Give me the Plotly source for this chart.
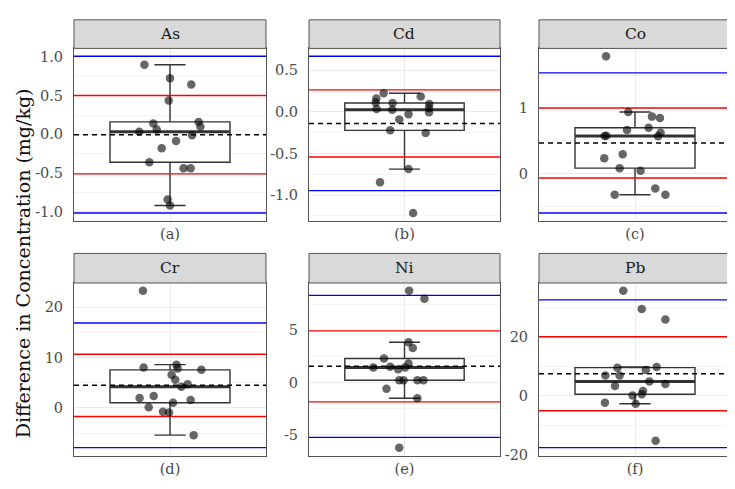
import numpy as np
import plotly.graph_objects as go

# ---------------- data ----------------
elements = ["As", "Cd", "Co", "Cr", "Ni", "Pb"]
panel_tags = ["(a)", "(b)", "(c)", "(d)", "(e)", "(f)"]

as_diff = [0.899, 0.725, 0.645, 0.437, 0.14, 0.034, 0.064, 0.161, 0.098, -0.013,
           -0.085, -0.178, -0.36, -0.437, -0.437, -0.84, -0.92]
as_jitter = [-0.160, 0.0, 0.133, -0.008, -0.104, -0.192, -0.083, 0.179, 0.190, 0.138,
             0.038, -0.052, -0.129, 0.085, 0.129, -0.015, 0.0]

cd_diff = [0.225, 0.186, 0.162, 0.114, 0.107, 0.095, 0.047, -0.004, 0.036, 0.028,
           -0.028, -0.091, -0.221, -0.253, -0.687, -0.845, -1.216]
cd_jitter = [-0.131, 0.102, -0.177, -0.181, -0.075, 0.156, 0.154, 0.154, -0.175, -0.077,
             0.025, -0.033, -0.090, 0.133, 0.025, -0.154, 0.054]

co_diff = [1.79, 0.94, 0.87, 0.85, 0.70, 0.665, 0.625, 0.57, 0.575, 0.58,
           0.295, 0.235, 0.085, 0.045, -0.225, -0.32, -0.32]
co_jitter = [-0.181, -0.042, 0.106, 0.156, 0.085, -0.050, 0.160, 0.144, -0.190, -0.179,
             -0.077, -0.192, -0.096, 0.035, 0.127, 0.190, -0.127]

cr_diff = [23.26, 8.6, 8.01, 7.82, 7.56, 6.58, 5.6, 4.69, 4.23, 2.35,
           1.95, 1.56, 1.04, 0.13, -0.78, -0.91, -5.41]
cr_jitter = [-0.169, 0.040, -0.165, 0.048, 0.196, 0.010, 0.033, 0.110, 0.071, -0.102,
             -0.190, 0.129, 0.019, -0.133, -0.044, -0.006, 0.148]

ni_diff = [8.8, 8.05, 3.87, 3.3, 2.3, 1.82, 1.45, 1.51, 1.45, 1.26,
           0.22, 0.22, 0.22, 0.22, -0.6, -1.51, -6.26]
ni_jitter = [0.029, 0.125, 0.025, 0.052, -0.129, 0.025, -0.196, -0.090, 0.004, -0.040,
             -0.033, -0.006, 0.081, 0.119, -0.113, 0.081, -0.033]

pb_diff = [35.75, 29.6, 26.0, 9.83, 9.6, 8.83, 6.93, 6.93, 4.92, 4.02,
           3.35, 1.68, 0.56, 0.11, -2.68, -2.35, -15.3]
pb_jitter = [-0.073, 0.042, 0.190, 0.135, -0.110, 0.067, -0.185, -0.096, 0.090, 0.190,
             -0.125, 0.050, 0.042, -0.015, 0.004, -0.188, 0.129]

as_ticks = [-1.0, -0.5, 0.0, 0.5, 1.0]
as_tick_text = ["-1.0", "-0.5", "0.0", "0.5", "1.0"]
cd_ticks = [-1.0, -0.5, 0.0, 0.5]
cd_tick_text = ["-1.0", "-0.5", "0.0", "0.5"]
co_ticks = [0, 1]
co_tick_text = ["0", "1"]
cr_ticks = [0, 10, 20]
cr_tick_text = ["0", "10", "20"]
ni_ticks = [-5, 0, 5]
ni_tick_text = ["-5", "0", "5"]
pb_ticks = [-20, 0, 20]
pb_tick_text = ["-20", "0", "20"]

all_diff = [as_diff, cd_diff, co_diff, cr_diff, ni_diff, pb_diff]
all_jitter = [as_jitter, cd_jitter, co_jitter, cr_jitter, ni_jitter, pb_jitter]
all_ticks = [as_ticks, cd_ticks, co_ticks, cr_ticks, ni_ticks, pb_ticks]
all_tick_text = [as_tick_text, cd_tick_text, co_tick_text, cr_tick_text, ni_tick_text, pb_tick_text]

# ---------------- layout geometry ----------------
W, H = 735, 489
col_px = [(66, 258), (301, 492), (531, 723)]
row_px = [(41, 216), (279, 454)]
strip_px = [(12, 41), (249, 279)]

FONT = "DejaVu Serif"
TICKCOL = "#4a4a4a"
GRID = "#ebebeb"
MINOR = "#f4f4f4"
BORDER = "#555555"

fig = go.Figure()
layout = dict(
    width=W, height=H, margin=dict(l=0, r=0, t=0, b=0),
    paper_bgcolor="white", plot_bgcolor="white",
    showlegend=False, hovermode=False,
    font=dict(family=FONT, color=TICKCOL, size=14),
)
shapes = []
annotations = []

for i in range(6):
    r, c = divmod(i, 3)
    sfx = "" if i == 0 else str(i + 1)
    xa, ya = "x" + sfx, "y" + sfx
    vals = np.array(all_diff[i], dtype=float)
    jit = np.array(all_jitter[i], dtype=float)

    mean = vals.mean()
    sd = vals.std(ddof=1)
    q1, med, q3 = np.percentile(vals, [25, 50, 75])
    iqr = q3 - q1
    upper = vals[vals <= q3 + 1.5 * iqr].max()
    lower = vals[vals >= q1 - 1.5 * iqr].min()

    # box
    fig.add_trace(go.Box(
        x=[1], q1=[q1], median=[med], q3=[q3], lowerfence=[lower], upperfence=[upper],
        width=0.75, whiskerwidth=0.26, boxpoints=False, fillcolor="white",
        line=dict(color="#333333", width=1.4), xaxis=xa, yaxis=ya,
    ))
    # thick median
    fig.add_trace(go.Scatter(
        x=[1 - 0.375, 1 + 0.375], y=[med, med], mode="lines",
        line=dict(color="#333333", width=3), xaxis=xa, yaxis=ya,
    ))
    # reference lines
    for v, col, dash, wd in [
        (mean + 2 * sd, "#0000ff", "solid", 1.4), (mean - 2 * sd, "#0000ff", "solid", 1.4),
        (mean + sd, "#ff0000", "solid", 1.4), (mean - sd, "#ff0000", "solid", 1.4),
        (mean, "#000000", "5px,4px", 1.5),
    ]:
        fig.add_trace(go.Scatter(
            x=[0.4, 1.6], y=[v, v], mode="lines",
            line=dict(color=col, width=wd, dash=dash), xaxis=xa, yaxis=ya,
        ))
    # jittered points
    fig.add_trace(go.Scatter(
        x=1 + jit, y=vals, mode="markers",
        marker=dict(color="rgba(0,0,0,0.6)", size=8.5, line=dict(width=0)),
        xaxis=xa, yaxis=ya,
    ))

    lo = min(vals.min(), mean - 2 * sd)
    hi = max(vals.max(), mean + 2 * sd)
    pad = 0.05 * (hi - lo)
    yr = [lo - pad, hi + pad]

    ticks = all_ticks[i]
    step = ticks[1] - ticks[0]
    minor = [t for t in np.arange(ticks[0] - 2.5 * step, ticks[-1] + 3 * step, step)
             if yr[0] <= t <= yr[1]]

    xd = [col_px[c][0] / W, col_px[c][1] / W]
    yd = [1 - row_px[r][1] / H, 1 - row_px[r][0] / H]

    layout["xaxis" + sfx] = dict(
        domain=xd, range=[0.4, 1.6], anchor=ya, tickmode="array",
        tickvals=[1], ticktext=[panel_tags[i]], showgrid=True, gridcolor=GRID,
        gridwidth=1, zeroline=False, showline=True, mirror=True, linecolor=BORDER,
        linewidth=1, ticks="", ticklabelstandoff=0,
        tickfont=dict(family=FONT, size=14.5, color=TICKCOL),
    )
    layout["yaxis" + sfx] = dict(
        domain=yd, range=yr, anchor=xa, tickmode="array",
        tickvals=ticks, ticktext=all_tick_text[i], showgrid=True, gridcolor=GRID,
        gridwidth=1, zeroline=False, showline=True, mirror=True, linecolor=BORDER,
        linewidth=1, ticks="", ticklabelstandoff=7,
        tickfont=dict(family=FONT, size=14.5, color=TICKCOL),
        minor=dict(tickmode="array", tickvals=minor, showgrid=True,
                   gridcolor=MINOR, gridwidth=0.6, ticks=""),
    )

    sy = [1 - strip_px[r][1] / H, 1 - strip_px[r][0] / H]
    shapes.append(dict(type="rect", xref="paper", yref="paper",
                       x0=xd[0], x1=xd[1], y0=sy[0], y1=sy[1],
                       fillcolor="#d9d9d9", line=dict(color=BORDER, width=1)))
    annotations.append(dict(xref="paper", yref="paper", x=(xd[0] + xd[1]) / 2,
                            y=(sy[0] + sy[1]) / 2, text=elements[i], showarrow=False,
                            font=dict(family=FONT, size=15.5, color="#1a1a1a"),
                            xanchor="center", yanchor="middle"))

annotations.append(dict(xref="paper", yref="paper", x=15 / W, y=1 - 259 / H,
                        text="Difference in Concentration (mg/kg)", textangle=-90,
                        showarrow=False, xanchor="center", yanchor="middle",
                        font=dict(family=FONT, size=19, color="#111111")))

layout["shapes"] = shapes
layout["annotations"] = annotations
fig.update_layout(**layout)
fig.write_html("out.html")
